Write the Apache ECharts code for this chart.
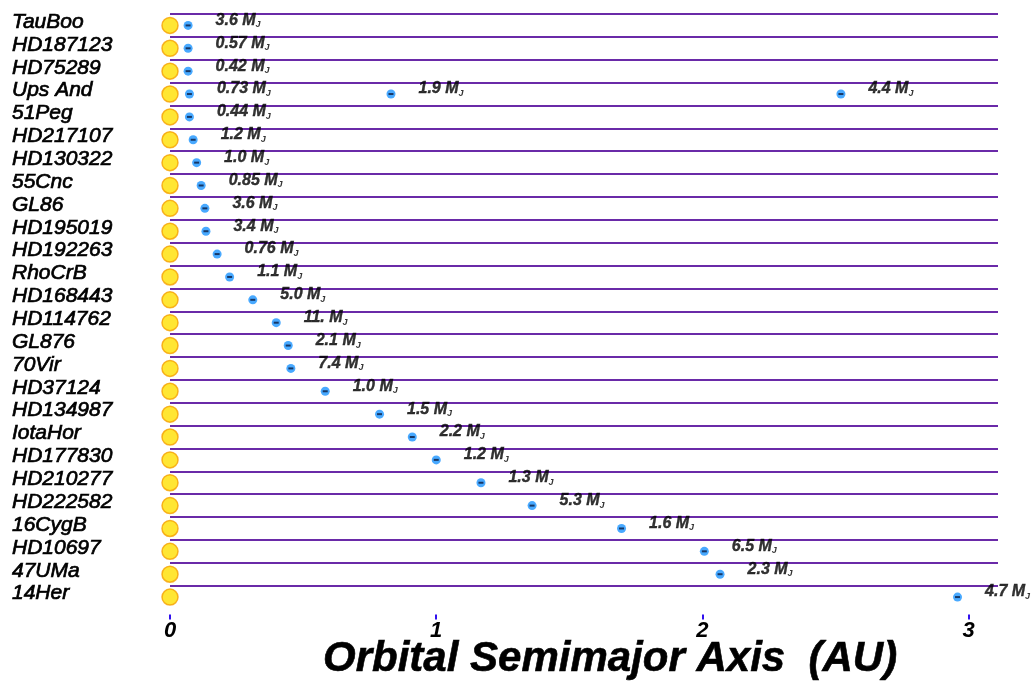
<!DOCTYPE html>
<html>
<head>
<meta charset="utf-8">
<script src="https://cdn.jsdelivr.net/npm/echarts@6/dist/echarts.min.js"></script>
<style>
  html, body { margin: 0; padding: 0; background: #fff; }
  #chart { width: 1032px; height: 685px; }
</style>
</head>
<body>
<div id="chart"></div>
<script>
// host stars, top to bottom
const stars = ['TauBoo', 'HD187123', 'HD75289', 'Ups And', '51Peg', 'HD217107', 'HD130322', '55Cnc',
  'GL86', 'HD195019', 'HD192263', 'RhoCrB', 'HD168443', 'HD114762', 'GL876', '70Vir', 'HD37124',
  'HD134987', 'IotaHor', 'HD177830', 'HD210277', 'HD222582', '16CygB', 'HD10697', '47UMa', '14Her']

// one entry per planet
const planetHost = ['TauBoo', 'HD187123', 'HD75289', 'Ups And', 'Ups And', 'Ups And', '51Peg', 'HD217107',
  'HD130322', '55Cnc', 'GL86', 'HD195019', 'HD192263', 'RhoCrB', 'HD168443', 'HD114762', 'GL876', '70Vir',
  'HD37124', 'HD134987', 'IotaHor', 'HD177830', 'HD210277', 'HD222582', '16CygB', 'HD10697', '47UMa', '14Her']
const planetAU = [0.068, 0.068, 0.068, 0.073, 0.83, 2.52, 0.073, 0.087,
  0.10, 0.117, 0.131, 0.135, 0.177, 0.224, 0.311, 0.399, 0.444, 0.454,
  0.583, 0.787, 0.91, 1.0, 1.168, 1.36, 1.696, 2.007, 2.066, 2.958]
const planetMass = ['3.6', '0.57', '0.42', '0.73', '1.9', '4.4', '0.44', '1.2',
  '1.0', '0.85', '3.6', '3.4', '0.76', '1.1', '5.0', '11.', '2.1', '7.4',
  '1.0', '1.5', '2.2', '1.2', '1.3', '5.3', '1.6', '6.5', '2.3', '4.7']

const xTicks = [0, 1, 2, 3]

const chart = echarts.init(document.getElementById('chart'))

const planetData = planetAU.map((a, i) => ({ value: [a, planetHost[i]], mass: planetMass[i] }))
const starData = stars.map(s => [0, s])

const boldItalic = {
  fontFamily: 'Liberation Sans',
  fontStyle: 'italic',
  fontWeight: 'bold',
  color: '#000'
}

chart.setOption({
  animation: false,
  backgroundColor: '#fff',
  title: {
    text: 'Orbital Semimajor Axis  (AU)',
    left: 318,
    top: 633,
    textStyle: Object.assign({ fontSize: 42, textBorderColor: '#000', textBorderWidth: 0.6 }, boldItalic)
  },
  grid: { left: 170, right: 34, top: 14, bottom: 76.5 },
  xAxis: {
    type: 'value',
    min: 0,
    max: 3.11,
    interval: 1,
    offset: 11,
    axisLine: { lineStyle: { color: '#3010ee', width: 3 } },
    axisTick: { show: true, inside: true, length: 5, lineStyle: { color: '#3010ee', width: 2 } },
    splitLine: { show: false },
    axisLabel: Object.assign({
      showMaxLabel: false,
      margin: 0,
      formatter: v => (xTicks.includes(v) ? String(v) : ''),
      fontSize: 22
    }, boldItalic)
  },
  yAxis: {
    type: 'category',
    data: stars,
    inverse: true,
    axisLine: { show: false },
    axisTick: { show: false },
    splitLine: {
      show: true,
      interval: 0,
      showMaxLine: false,
      lineStyle: { color: '#6a2aa8', width: 2 }
    },
    axisLabel: {
      interval: 0,
      align: 'left',
      verticalAlign: 'bottom',
      lineHeight: 7,
      margin: 158,
      fontFamily: 'Liberation Sans',
      fontStyle: 'italic',
      fontSize: 21,
      color: '#000',
      textBorderColor: '#000',
      textBorderWidth: 0.7
    }
  },
  series: [
    {
      name: 'stars',
      type: 'scatter',
      data: starData,
      symbol: 'circle',
      symbolSize: 16,
      clip: false,
      itemStyle: { color: '#ffe000', borderColor: '#f5a000', borderWidth: 1.5 }
    },
    {
      name: 'planets',
      type: 'scatter',
      data: planetData,
      symbol: 'circle',
      symbolSize: 9,
      clip: false,
      itemStyle: { color: '#1a94ff' },
      label: {
        show: true,
        position: 'right',
        distance: 23,
        offset: [0, -5],
        color: '#000',
        formatter: p => '{m|' + p.data.mass + ' M}{j|J}',
        rich: {
          m: Object.assign({ fontSize: 16, lineHeight: 16, textBorderColor: '#000', textBorderWidth: 0.4 }, boldItalic),
          j: Object.assign({ fontSize: 9, padding: [9, 0, 0, 0] }, boldItalic)
        }
      }
    },
    {
      name: 'planet core',
      type: 'scatter',
      data: planetData,
      symbol: 'rect',
      symbolSize: [5, 2],
      clip: false,
      silent: true,
      itemStyle: { color: '#0a1a40' }
    }
  ]
})
</script>
</body>
</html>
